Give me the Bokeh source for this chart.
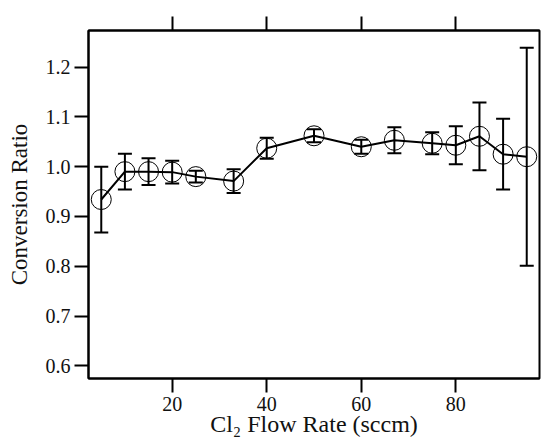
from bokeh.plotting import figure
from bokeh.models import (LinearAxis, FixedTicker, Range1d, ColumnDataSource,
                          Whisker, TeeHead, NumeralTickFormatter)
from bokeh.embed import file_html
from bokeh.resources import INLINE

# Data
flow = [5, 10, 15, 20, 25, 33, 40, 50, 60, 67, 75, 80, 85, 90, 95]
ratio = [0.934, 0.990, 0.990, 0.989, 0.980, 0.971, 1.037, 1.062, 1.040,
         1.053, 1.047, 1.043, 1.061, 1.025, 1.020]
err = [0.066, 0.036, 0.027, 0.023, 0.012, 0.024, 0.021, 0.013, 0.014,
       0.026, 0.022, 0.038, 0.068, 0.071, 0.219]
x_ticks = [20, 40, 60, 80]
y_ticks = [0.6, 0.7, 0.8, 0.9, 1.0, 1.1, 1.2]

FONT = "Liberation Serif"

src = ColumnDataSource(dict(
    x=flow, y=ratio,
    upper=[v + e for v, e in zip(ratio, err)],
    lower=[v - e for v, e in zip(ratio, err)],
))

p = figure(frame_width=451, frame_height=348,
           min_border_left=88, min_border_right=2,
           min_border_top=30, min_border_bottom=63,
           x_range=Range1d(2.3, 97.7), y_range=Range1d(0.5745, 1.2735),
           x_axis_label="Cl\u2082 Flow Rate (sccm)",
           y_axis_label="Conversion Ratio",
           output_backend="svg", toolbar_location=None)

p.background_fill_color = "white"
p.border_fill_color = "white"
p.xgrid.visible = False
p.ygrid.visible = False
p.outline_line_color = "black"
p.outline_line_width = 2
p.outline_line_alpha = 1.0

for ax in (p.xaxis[0], p.yaxis[0]):
    ax.axis_line_color = "black"
    ax.axis_line_width = 2
    ax.major_tick_line_color = "black"
    ax.major_tick_line_width = 2
    ax.major_tick_out = 14
    ax.major_tick_in = 0
    ax.minor_tick_line_color = None
    ax.major_label_text_font = FONT
    ax.major_label_text_font_size = "20px"
    ax.major_label_text_color = "#111111"
    ax.axis_label_text_font = FONT
    ax.axis_label_text_font_style = "normal"
    ax.axis_label_text_color = "#111111"
    ax.major_label_standoff = 4

p.xaxis[0].axis_label_text_font_size = "24px"
p.yaxis[0].axis_label_text_font_size = "23px"
p.xaxis[0].ticker = FixedTicker(ticks=x_ticks)
p.yaxis[0].ticker = FixedTicker(ticks=y_ticks)
p.yaxis[0].formatter = NumeralTickFormatter(format="0.0")
p.xaxis[0].axis_label_standoff = -3
p.yaxis[0].axis_label_standoff = 11

top = LinearAxis(ticker=FixedTicker(ticks=x_ticks),
                 major_label_overrides={t: "" for t in x_ticks},
                 major_label_standoff=0,
                 major_tick_out=14, major_tick_in=0,
                 major_tick_line_width=2, major_tick_line_color="black",
                 axis_line_width=2, axis_line_color="black",
                 minor_tick_line_color=None)
p.add_layout(top, "above")

p.line("x", "y", source=src, line_color="black", line_width=2)

whisk = Whisker(base="x", upper="upper", lower="lower", source=src,
                line_color="black", line_width=2,
                upper_head=TeeHead(size=14, line_width=2, line_color="black"),
                lower_head=TeeHead(size=14, line_width=2, line_color="black"))
p.add_layout(whisk)

p.scatter("x", "y", source=src, marker="circle", size=20,
          fill_color=None, line_color="black", line_width=1)

open("out.html", "w").write(file_html(p, INLINE))
